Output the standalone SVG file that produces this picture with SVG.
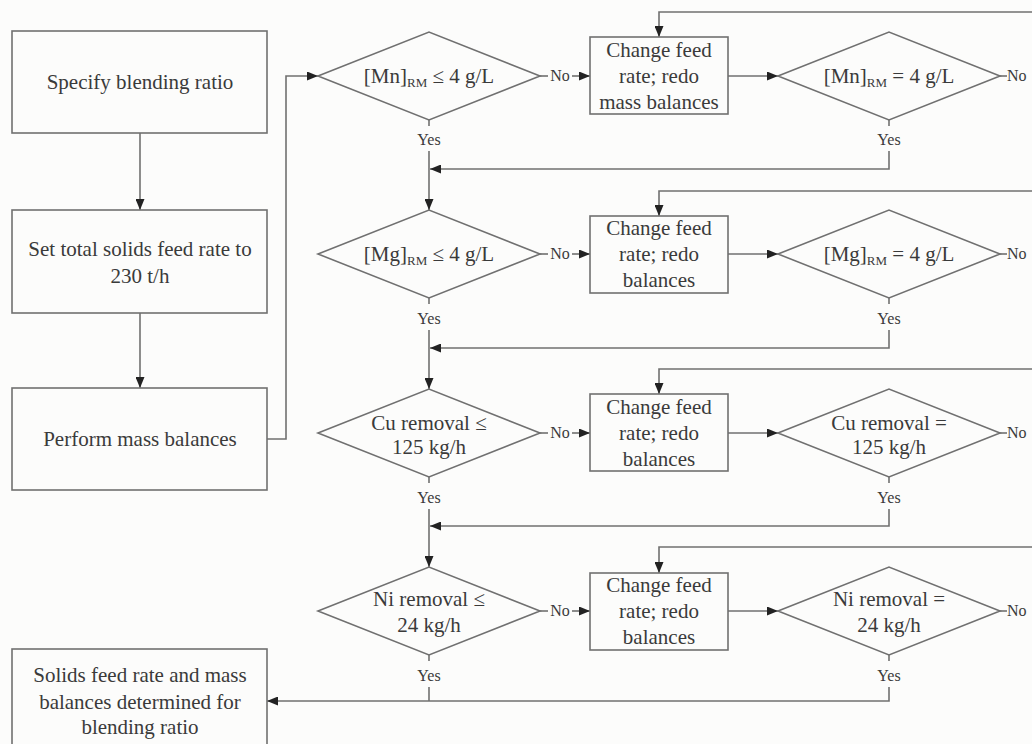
<svg xmlns="http://www.w3.org/2000/svg" width="1032" height="744" viewBox="0 0 1032 744" font-family="Liberation Serif, Times New Roman, DejaVu Serif, serif">
<style>
.bg{fill:#fcfcfb}
.shape{fill:none;stroke:#707070;stroke-width:1.6}
.ln{fill:none;stroke:#707070;stroke-width:1.6}
.t{font-size:21px;fill:#3a3a3a;text-anchor:middle}
.s{font-size:13px}
.lab{font-size:16px;fill:#3a3a3a;text-anchor:middle}
.st{text-anchor:start}
</style>
<defs>
<marker id="ah" markerUnits="userSpaceOnUse" markerWidth="11" markerHeight="9" refX="11" refY="4.5" orient="auto">
<path d="M0,0 L11,4.5 L0,9 z" fill="#222"/>
</marker>
</defs>
<rect class="bg" x="0" y="0" width="1032" height="744"/>

<g id="connectors">
<path class="ln" d="M140,133 V210" marker-end="url(#ah)"/>
<path class="ln" d="M140,313 V388" marker-end="url(#ah)"/>
<path class="ln" d="M267,439 H286 V76 H318" marker-end="url(#ah)"/>
<!-- row 1 -->
<path class="ln" d="M540,76 H548"/>
<text class="lab" x="560" y="81">No</text>
<path class="ln" d="M572,76 H590" marker-end="url(#ah)"/>
<path class="ln" d="M728,76 H778" marker-end="url(#ah)"/>
<path class="ln" d="M1000,76 H1007"/>
<text class="lab st" x="1007" y="81">No</text>
<path class="ln" d="M1032,12 H659 V37" marker-end="url(#ah)"/>
<path class="ln" d="M429,120 V126"/>
<text class="lab" x="429" y="145">Yes</text>
<path class="ln" d="M429,151 V210" marker-end="url(#ah)"/>
<path class="ln" d="M889,120 V126"/>
<text class="lab" x="889" y="145">Yes</text>
<path class="ln" d="M889,151 V169 H430" marker-end="url(#ah)"/>
<!-- row 2 -->
<path class="ln" d="M540,254 H548"/>
<text class="lab" x="560" y="259">No</text>
<path class="ln" d="M572,254 H590" marker-end="url(#ah)"/>
<path class="ln" d="M728,254 H778" marker-end="url(#ah)"/>
<path class="ln" d="M1000,254 H1007"/>
<text class="lab st" x="1007" y="259">No</text>
<path class="ln" d="M1032,191 H659 V216" marker-end="url(#ah)"/>
<path class="ln" d="M429,298 V304"/>
<text class="lab" x="429" y="324">Yes</text>
<path class="ln" d="M429,330 V389" marker-end="url(#ah)"/>
<path class="ln" d="M889,298 V304"/>
<text class="lab" x="889" y="324">Yes</text>
<path class="ln" d="M889,330 V348 H430" marker-end="url(#ah)"/>
<!-- row 3 -->
<path class="ln" d="M540,433 H548"/>
<text class="lab" x="560" y="438">No</text>
<path class="ln" d="M572,433 H590" marker-end="url(#ah)"/>
<path class="ln" d="M728,433 H778" marker-end="url(#ah)"/>
<path class="ln" d="M1000,433 H1007"/>
<text class="lab st" x="1007" y="438">No</text>
<path class="ln" d="M1032,369 H659 V394" marker-end="url(#ah)"/>
<path class="ln" d="M429,477 V483"/>
<text class="lab" x="429" y="503">Yes</text>
<path class="ln" d="M429,509 V567" marker-end="url(#ah)"/>
<path class="ln" d="M889,477 V483"/>
<text class="lab" x="889" y="503">Yes</text>
<path class="ln" d="M889,509 V526 H430" marker-end="url(#ah)"/>
<!-- row 4 -->
<path class="ln" d="M540,611 H548"/>
<text class="lab" x="560" y="616">No</text>
<path class="ln" d="M572,611 H590" marker-end="url(#ah)"/>
<path class="ln" d="M728,611 H778" marker-end="url(#ah)"/>
<path class="ln" d="M1000,611 H1007"/>
<text class="lab st" x="1007" y="616">No</text>
<path class="ln" d="M1032,547 H659 V573" marker-end="url(#ah)"/>
<path class="ln" d="M429,655 V661"/>
<text class="lab" x="429" y="681">Yes</text>
<path class="ln" d="M429,687 V701"/>
<path class="ln" d="M889,655 V661"/>
<text class="lab" x="889" y="681">Yes</text>
<path class="ln" d="M889,687 V701 H267" marker-end="url(#ah)"/>
</g>

<g id="box-specify">
<rect class="shape" x="12" y="31" width="255" height="102"/>
<text class="t" x="140" y="89">Specify blending ratio</text>
</g>
<g id="box-set-feed">
<rect class="shape" x="12" y="210" width="255" height="103"/>
<text class="t" x="140" y="256">Set total solids feed rate to</text>
<text class="t" x="140" y="283">230 t/h</text>
</g>
<g id="box-perform">
<rect class="shape" x="12" y="388" width="255" height="102"/>
<text class="t" x="140" y="446">Perform mass balances</text>
</g>
<g id="box-result">
<rect class="shape" x="12" y="649" width="255" height="110"/>
<text class="t" x="140" y="682">Solids feed rate and mass</text>
<text class="t" x="140" y="709">balances determined for</text>
<text class="t" x="140" y="734">blending ratio</text>
</g>

<g id="dec-mn-le">
<polygon class="shape" points="318,76 429,32 540,76 429,120"/>
<text class="t" x="429" y="83">[Mn]<tspan class="s" dy="4">RM</tspan><tspan dy="-4"> ≤ 4 g/L</tspan></text>
</g>
<g id="box-change-1">
<rect class="shape" x="590" y="37" width="138" height="77"/>
<text class="t" x="659" y="57">Change feed</text>
<text class="t" x="659" y="83">rate; redo</text>
<text class="t" x="659" y="109">mass balances</text>
</g>
<g id="dec-mn-eq">
<polygon class="shape" points="778,76 889,32 1000,76 889,120"/>
<text class="t" x="889" y="83">[Mn]<tspan class="s" dy="4">RM</tspan><tspan dy="-4"> = 4 g/L</tspan></text>
</g>

<g id="dec-mg-le">
<polygon class="shape" points="318,254 429,210 540,254 429,298"/>
<text class="t" x="429" y="261">[Mg]<tspan class="s" dy="4">RM</tspan><tspan dy="-4"> ≤ 4 g/L</tspan></text>
</g>
<g id="box-change-2">
<rect class="shape" x="590" y="216" width="138" height="77"/>
<text class="t" x="659" y="235">Change feed</text>
<text class="t" x="659" y="261">rate; redo</text>
<text class="t" x="659" y="287">balances</text>
</g>
<g id="dec-mg-eq">
<polygon class="shape" points="778,254 889,210 1000,254 889,298"/>
<text class="t" x="889" y="261">[Mg]<tspan class="s" dy="4">RM</tspan><tspan dy="-4"> = 4 g/L</tspan></text>
</g>

<g id="dec-cu-le">
<polygon class="shape" points="318,433 429,389 540,433 429,477"/>
<text class="t" x="429" y="430">Cu removal ≤</text>
<text class="t" x="429" y="454">125 kg/h</text>
</g>
<g id="box-change-3">
<rect class="shape" x="590" y="394" width="138" height="77"/>
<text class="t" x="659" y="414">Change feed</text>
<text class="t" x="659" y="440">rate; redo</text>
<text class="t" x="659" y="466">balances</text>
</g>
<g id="dec-cu-eq">
<polygon class="shape" points="778,433 889,389 1000,433 889,477"/>
<text class="t" x="889" y="430">Cu removal =</text>
<text class="t" x="889" y="454">125 kg/h</text>
</g>

<g id="dec-ni-le">
<polygon class="shape" points="318,611 429,567 540,611 429,655"/>
<text class="t" x="429" y="606">Ni removal ≤</text>
<text class="t" x="429" y="632">24 kg/h</text>
</g>
<g id="box-change-4">
<rect class="shape" x="590" y="573" width="138" height="77"/>
<text class="t" x="659" y="592">Change feed</text>
<text class="t" x="659" y="618">rate; redo</text>
<text class="t" x="659" y="644">balances</text>
</g>
<g id="dec-ni-eq">
<polygon class="shape" points="778,611 889,567 1000,611 889,655"/>
<text class="t" x="889" y="606">Ni removal =</text>
<text class="t" x="889" y="632">24 kg/h</text>
</g>
</svg>
